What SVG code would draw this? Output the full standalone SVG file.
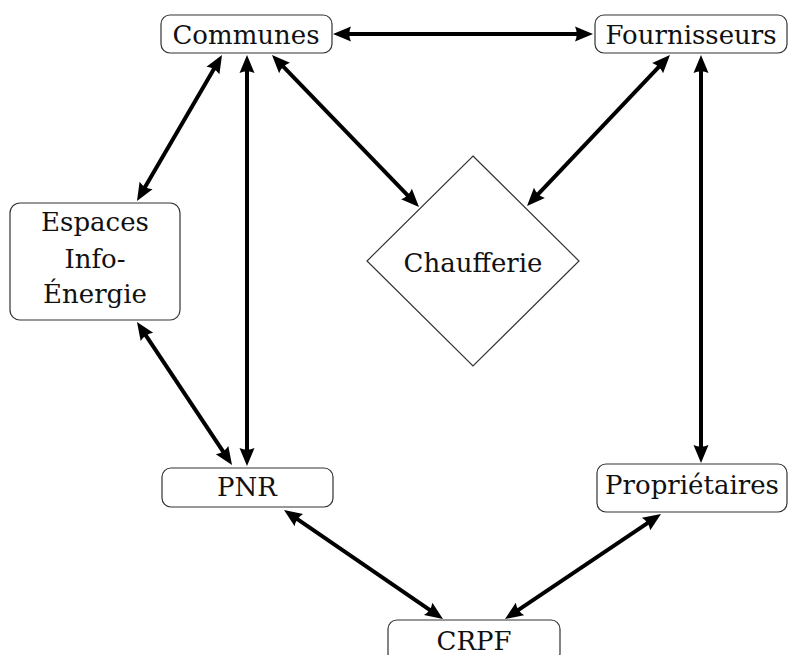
<svg xmlns="http://www.w3.org/2000/svg" width="797" height="655" viewBox="0 0 797 655">
<style>
.box{fill:#fff;stroke:#333;stroke-width:1.2}
.lbl{font-family:"DejaVu Serif",serif;font-size:26px;fill:#111;text-anchor:middle}
.edge{stroke:#000;stroke-width:4;fill:none;marker-start:url(#ah);marker-end:url(#ah)}
</style>
<defs>
<marker id="ah" markerUnits="userSpaceOnUse" markerWidth="34" markerHeight="34" viewBox="-12 -12 34 24" refX="0" refY="0" orient="auto-start-reverse">
<path d="M10,0 L-8,-7.5 Q-4.5,0 -8,7.5 Z" fill="#000"/>
</marker>
</defs>
<rect width="797" height="655" fill="#fff"/>
<g id="connectors">
<line class="edge" x1="343" y1="34" x2="583" y2="34"/>
<line class="edge" x1="216.97" y1="63.64" x2="142.03" y2="192.36"/>
<line class="edge" x1="247" y1="65" x2="247" y2="456"/>
<line class="edge" x1="278.95" y1="62.19" x2="412.05" y2="199.81"/>
<line class="edge" x1="663.1" y1="62.3" x2="533.9" y2="198.7"/>
<line class="edge" x1="701" y1="65" x2="701" y2="453"/>
<line class="edge" x1="142.5" y1="330.3" x2="226.5" y2="456.7"/>
<line class="edge" x1="292.25" y1="515.65" x2="434.75" y2="613.35"/>
<line class="edge" x1="652.7" y1="519.6" x2="513.3" y2="613.4"/>
</g>
<g id="communes"><rect class="box" x="161" y="15" width="171" height="38" rx="9"/><text class="lbl" x="246" y="43.5">Communes</text></g>
<g id="fournisseurs"><rect class="box" x="595" y="15" width="192" height="38" rx="9"/><text class="lbl" x="691" y="43.5">Fournisseurs</text></g>
<g id="espaces"><rect class="box" x="10" y="203" width="170" height="117" rx="10"/><text class="lbl" x="95" y="230.5">Espaces</text><text class="lbl" x="95" y="267.5">Info-</text><text class="lbl" x="95" y="303">Énergie</text></g>
<g id="chaufferie"><polygon class="box" points="473,156 579,261 473,366 367,261"/><text class="lbl" x="473" y="272">Chaufferie</text></g>
<g id="pnr"><rect class="box" x="162" y="468" width="171" height="39" rx="9"/><text class="lbl" x="247" y="495.5">PNR</text></g>
<g id="proprietaires"><rect class="box" x="597" y="464" width="190" height="48" rx="9"/><text class="lbl" x="692" y="493.5">Propriétaires</text></g>
<g id="crpf"><rect class="box" x="388" y="620" width="172" height="42" rx="9"/><text class="lbl" x="474" y="650">CRPF</text></g>
</svg>
